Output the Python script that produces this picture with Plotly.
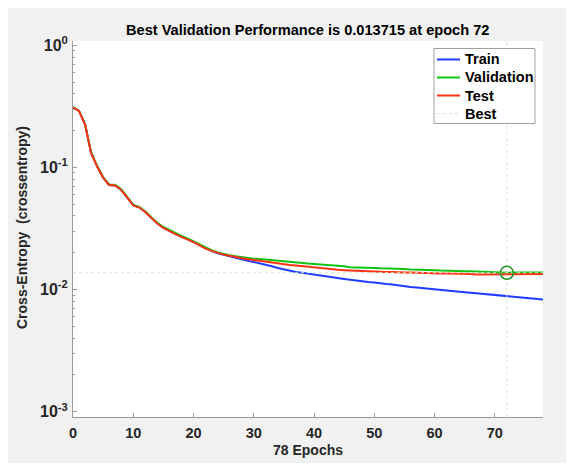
import plotly.graph_objects as go

# ---------------- data ----------------
epochs = list(range(79))

train = [0.312, 0.290, 0.225, 0.132, 0.102, 0.0825, 0.0718, 0.0712, 0.0655, 0.0566,
         0.0490, 0.0470, 0.0432, 0.0386, 0.0348, 0.0320, 0.0301, 0.0285, 0.0270, 0.0259,
         0.0245, 0.0230, 0.0216, 0.0207, 0.0198, 0.0192, 0.0187, 0.0181, 0.0177, 0.0172,
         0.0168, 0.0164, 0.0160, 0.0155, 0.0150, 0.0146, 0.0142, 0.0139, 0.0137, 0.0135,
         0.0132, 0.0130, 0.0128, 0.0126, 0.0124, 0.0122, 0.0120, 0.0118, 0.0117, 0.0115,
         0.0114, 0.0112, 0.0111, 0.0110, 0.0108, 0.0107, 0.0105, 0.0104, 0.0103, 0.0102,
         0.0100, 0.0099, 0.0098, 0.0097, 0.0096, 0.0095, 0.0094, 0.0093, 0.0092, 0.0091,
         0.0090, 0.0089, 0.0088, 0.0087, 0.0086, 0.0085, 0.0084, 0.00838, 0.0083]

validation = [0.312, 0.290, 0.226, 0.133, 0.103, 0.0830, 0.0725, 0.0722, 0.0662, 0.0570,
              0.0493, 0.0474, 0.0436, 0.0390, 0.0352, 0.0325, 0.0306, 0.0289, 0.0275, 0.0262,
              0.0248, 0.0233, 0.0219, 0.0210, 0.0201, 0.0195, 0.0191, 0.0187, 0.0184, 0.0181,
              0.0179, 0.0178, 0.0176, 0.0174, 0.0172, 0.0170, 0.0167, 0.0166, 0.0164, 0.0163,
              0.0162, 0.0161, 0.0160, 0.0159, 0.0158, 0.0155, 0.0152, 0.0152, 0.0151, 0.0151,
              0.0150, 0.0149, 0.0149, 0.0148, 0.0148, 0.0147, 0.0146, 0.0146, 0.0146, 0.0145,
              0.0144, 0.0143, 0.0142, 0.0142, 0.0142, 0.0141, 0.0141, 0.0140, 0.0140, 0.0139,
              0.0139, 0.0138, 0.013715, 0.01378, 0.01380, 0.01380, 0.01379, 0.01378, 0.01376]

test = [0.311, 0.289, 0.224, 0.131, 0.102, 0.0822, 0.0716, 0.0710, 0.0653, 0.0564,
        0.0489, 0.0469, 0.0431, 0.0385, 0.0347, 0.0319, 0.0300, 0.0284, 0.0270, 0.0258,
        0.0244, 0.0230, 0.0216, 0.0207, 0.0199, 0.0193, 0.0189, 0.0184, 0.0180, 0.0177,
        0.0174, 0.0171, 0.0168, 0.0165, 0.0163, 0.0161, 0.0159, 0.0157, 0.0155, 0.0154,
        0.0152, 0.0150, 0.0148, 0.0147, 0.0145, 0.0144, 0.0143, 0.0142, 0.0141, 0.0141,
        0.0140, 0.0140, 0.0139, 0.0139, 0.0138, 0.0138, 0.0138, 0.0137, 0.0137, 0.0136,
        0.0136, 0.0135, 0.0135, 0.0135, 0.0134, 0.0134, 0.0134, 0.0133, 0.0133, 0.0133,
        0.0133, 0.0133, 0.0133, 0.0133, 0.0134, 0.0134, 0.0134, 0.0134, 0.0134]

best_epoch = 72
best_value = 0.013715

x_tick_values = [0, 10, 20, 30, 40, 50, 60, 70]
y_tick_values = [1e-3, 1e-2, 1e-1, 1e0]
y_tick_labels = ["10<sup>-3</sup>", "10<sup>-2</sup>", "10<sup>-1</sup>", "10<sup>0</sup>"]
y_minor_values = [m * 10.0 ** k for k in (-3, -2, -1) for m in range(2, 10)]

x_range = [0, 78]
y_range_log = [-3.044, 0.035]

series_names = ["Train", "Validation", "Test"]
series_colors = ["#1f3cff", "#12c412", "#ff3214"]
best_name = "Best"
best_line_color = "#cdeccd"

# ---------------- figure ----------------
FONT = "Liberation Sans, Arial, Helvetica, sans-serif"
TXT = "#262626"
AXC = "#9a9a9a"

fig = go.Figure()
for name, vals, col in zip(series_names, [train, validation, test], series_colors):
    fig.add_trace(go.Scatter(x=epochs, y=vals, mode="lines", name=name,
                             line=dict(color=col, width=2), showlegend=False))

ymin = 10 ** y_range_log[0]
ymax = 10 ** y_range_log[1]
fig.add_trace(go.Scatter(
    x=[best_epoch, best_epoch, None, x_range[0], x_range[1]],
    y=[ymin, ymax, None, best_value, best_value],
    mode="lines", name=best_name, showlegend=False,
    line=dict(color=best_line_color, width=1, dash="dot")))
fig.add_trace(go.Scatter(
    x=[best_epoch], y=[best_value], mode="markers", showlegend=False,
    marker=dict(symbol="circle-open", size=13, color="#1a941a", line=dict(width=1.5))))

# page is offset by the 8px body margin
OFF = 8
W, H = 565, 455
L, R, T, B = 65, 30, 33, 46
pw, ph = W - L - R, H - T - B


def px(page_x):
    return (page_x - OFF - L) / pw


def py(page_y):
    return (H - B - (page_y - OFF)) / ph


# hand-built legend (box, line samples, labels)
shapes = [dict(type="rect", xref="paper", yref="paper",
               x0=px(434), x1=px(535), y0=py(48.5), y1=py(123.5),
               fillcolor="white", line=dict(color="#a0a0a0", width=1), layer="above")]
legend_rows = [59.5, 77.5, 95.5, 113.5]
legend_names = series_names + [best_name]
legend_colors = series_colors + [best_line_color]
legend_dash = ["solid", "solid", "solid", "dot"]
legend_width = [2, 2, 2, 1]
annotations = []
for rowy, nm, col, dsh, lw in zip(legend_rows, legend_names, legend_colors, legend_dash, legend_width):
    shapes.append(dict(type="line", xref="paper", yref="paper",
                       x0=px(437), x1=px(460), y0=py(rowy), y1=py(rowy),
                       line=dict(color=col, width=lw, dash=dsh), layer="above"))
    annotations.append(dict(text="<b>" + nm + "</b>", xref="paper", yref="paper",
                            x=px(462.5), y=py(rowy), xanchor="left", yanchor="middle",
                            showarrow=False,
                            font=dict(family=FONT, size=14.5, color="black")))

title_text = f"Best Validation Performance is {best_value} at epoch {best_epoch}"
annotations += [
    dict(text="<b>" + title_text + "</b>", xref="paper", yref="paper",
         x=px(307.5), y=py(30), xanchor="center", yanchor="middle", showarrow=False,
         font=dict(family=FONT, size=14.6, color="black")),
    dict(text="<b>Cross-Entropy  (crossentropy)</b>", xref="paper", yref="paper",
         x=px(22), y=py(228), xanchor="center", yanchor="middle", showarrow=False,
         textangle=-90, font=dict(family=FONT, size=14, color=TXT)),
    dict(text="<b>78 Epochs</b>", xref="paper", yref="paper",
         x=px(308), y=py(450), xanchor="center", yanchor="middle", showarrow=False,
         font=dict(family=FONT, size=14, color=TXT)),
]

fig.update_layout(
    width=W, height=H,
    margin=dict(l=L, r=R, t=T, b=B),
    paper_bgcolor="#f1f1f1",
    plot_bgcolor="white",
    font=dict(family=FONT, color=TXT, size=14),
    shapes=shapes,
    annotations=annotations,
    showlegend=False,
)

fig.update_xaxes(
    range=x_range, tickvals=x_tick_values, ticks="inside", ticklen=4,
    tickcolor=AXC, showline=True, linecolor=AXC, linewidth=1, mirror=False,
    showgrid=False, zeroline=False, ticklabelstandoff=3,
    tickfont=dict(family=FONT, size=14.5, color=TXT, weight="bold"))
fig.update_yaxes(
    type="log", range=y_range_log, tickvals=y_tick_values, ticktext=y_tick_labels,
    ticks="inside", ticklen=4, tickcolor=AXC, showline=True, linecolor=AXC,
    linewidth=1, mirror=False, showgrid=False, zeroline=False, ticklabelstandoff=1,
    minor=dict(tickvals=y_minor_values, ticks="inside", ticklen=2, tickcolor=AXC,
               showgrid=False),
    tickfont=dict(family=FONT, size=16, color=TXT, weight="bold"))

fig.write_html("out.html")
